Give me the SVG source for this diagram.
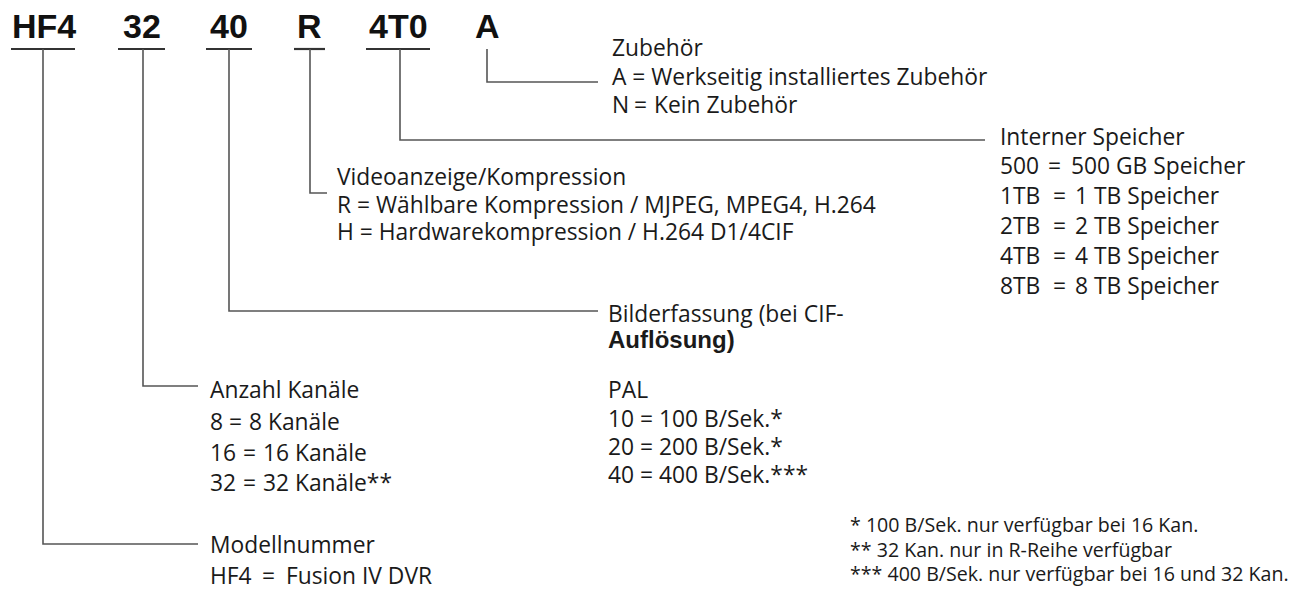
<svg xmlns="http://www.w3.org/2000/svg" width="1309" height="591" viewBox="0 0 1309 591">
<style>
.code{font-family:"Liberation Sans",Arial,sans-serif;font-weight:bold;font-size:34px;fill:#111}
.t{font-family:"Open Sans","Noto Sans",sans-serif;font-size:22.8px;fill:#1a1a1a}
.fn{font-family:"Open Sans","Noto Sans",sans-serif;font-size:19.6px;fill:#1a1a1a}
.b{font-family:"Liberation Sans",Arial,sans-serif;font-weight:bold;font-size:24px}
.ul{stroke:#333;stroke-width:2.2;fill:none}
.ln{stroke:#555;stroke-width:1.6;fill:none}
</style>
<rect width="1309" height="591" fill="#fff"/>
<g id="codes">
<text class="code" x="12" y="38">HF4</text>
<text class="code" x="123" y="38">32</text>
<text class="code" x="210" y="38">40</text>
<text class="code" x="297" y="38">R</text>
<text class="code" x="369" y="38">4T0</text>
<text class="code" x="475" y="38">A</text>
<line class="ul" x1="11" y1="49" x2="75" y2="49"/>
<line class="ul" x1="118" y1="49" x2="165" y2="49"/>
<line class="ul" x1="206" y1="49" x2="252" y2="49"/>
<line class="ul" x1="294" y1="49" x2="325" y2="49"/>
<line class="ul" x1="366" y1="49" x2="430" y2="49"/>
</g>
<g id="connectors">
<polyline class="ln" points="43,49 43,544 198,544"/>
<polyline class="ln" points="143,49 143,386 198,386"/>
<polyline class="ln" points="229,49 229,311 598,311"/>
<polyline class="ln" points="310,49 310,193 327,193"/>
<polyline class="ln" points="400,49 400,140 985,140"/>
<polyline class="ln" points="487,49 487,82 598,82"/>
</g>
<g id="zubehoer" class="t">
<text x="612" y="56">Zubehör</text>
<text x="612" y="85">A = Werkseitig installiertes Zubehör</text>
<text x="612" y="113">N<tspan x="634">=</tspan><tspan x="654">Kein Zubehör</tspan></text>
</g>
<g id="speicher" class="t">
<text x="1000" y="145">Interner Speicher</text>
<text x="1000" y="174">500<tspan x="1048">=</tspan><tspan x="1071">500 GB Speicher</tspan></text>
<text x="1000" y="204">1TB<tspan x="1053">=</tspan><tspan x="1075">1 TB Speicher</tspan></text>
<text x="1000" y="234">2TB<tspan x="1053">=</tspan><tspan x="1075">2 TB Speicher</tspan></text>
<text x="1000" y="264">4TB<tspan x="1053">=</tspan><tspan x="1075">4 TB Speicher</tspan></text>
<text x="1000" y="294">8TB<tspan x="1053">=</tspan><tspan x="1075">8 TB Speicher</tspan></text>
</g>
<g id="video" class="t">
<text x="337" y="185">Videoanzeige/Kompression</text>
<text x="337" y="213">R = Wählbare Kompression / MJPEG, MPEG4, H.264</text>
<text x="337" y="240">H = Hardwarekompression / H.264 D1/4CIF</text>
</g>
<g id="bilder" class="t">
<text x="608" y="322">Bilderfassung (bei CIF-</text>
<text x="608" y="348" class="b">Auflösung)</text>
<text x="608" y="398">PAL</text>
<text x="608" y="427">10 = 100 B/Sek.*</text>
<text x="608" y="455">20 = 200 B/Sek.*</text>
<text x="608" y="483">40 = 400 B/Sek.***</text>
</g>
<g id="kanaele" class="t">
<text x="210" y="398">Anzahl Kanäle</text>
<text x="210" y="430">8<tspan x="229">=</tspan><tspan x="249">8 Kanäle</tspan></text>
<text x="210" y="461">16<tspan x="243">=</tspan><tspan x="263">16 Kanäle</tspan></text>
<text x="210" y="491">32<tspan x="243">=</tspan><tspan x="263">32 Kanäle**</tspan></text>
</g>
<g id="modell" class="t">
<text x="210" y="553">Modellnummer</text>
<text x="210" y="584">HF4<tspan x="262">=</tspan><tspan x="286">Fusion IV DVR</tspan></text>
</g>
<g id="footnotes" class="fn">
<text x="850" y="532">* 100 B/Sek. nur verfügbar bei 16 Kan.</text>
<text x="850" y="557">** 32 Kan. nur in R-Reihe verfügbar</text>
<text x="850" y="581">*** 400 B/Sek. nur verfügbar bei 16 und 32 Kan.</text>
</g>
</svg>
